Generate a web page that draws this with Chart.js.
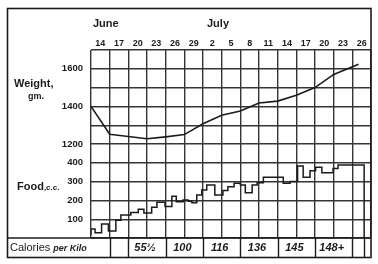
<!DOCTYPE html>
<html><head><meta charset="utf-8">
<script src="https://cdn.jsdelivr.net/npm/chart.js@4/dist/chart.umd.min.js"></script>
<style>html,body{margin:0;padding:0;background:#fff;}canvas{display:block;}</style>
</head><body>
<canvas id="c" width="378" height="264"></canvas>
<script>
// ---- data (x = days after June 14; 3 days per grid column) ----
const dayLabels = ['14','17','20','23','26','29','2','5','8','11','14','17','20','23','26'];
const monthLabels = ['June', 'July'];
const monthStartDays = [0, 18];
const weightTicks = [1200, 1400, 1600];
const foodTicks = [100, 200, 300, 400];

const weightDays = [0, 3, 6, 9, 12, 15, 18, 21, 24, 27, 30, 33, 36, 39, 43];
const weightGm   = [1400, 1252, 1240, 1228, 1238, 1250, 1308, 1353, 1375, 1418, 1428, 1459, 1500, 1570, 1624];

const foodDays = [0, 0.65, 1.7, 2.8, 4.0, 4.8, 6.4, 7.6, 8.5, 9.75, 10.6, 11.9, 13.0, 13.7, 14.8, 15.6, 16.2, 17.0,
                  17.8, 18.6, 19.9, 21.2, 22.0, 23.0, 24.0, 24.8, 25.9, 26.7, 27.7, 30.9, 32.0, 33.2, 34.1, 35.2,
                  36.1, 37.1, 38.9, 39.7, 41.1, 43.9, 43.9];
const foodCc   = [16, 48, 28, 74, 37, 94, 122, 135, 153, 133, 164, 190, 168, 222, 193, 202, 195, 188,
                  229, 255, 282, 229, 252, 273, 291, 282, 241, 282, 294, 323, 291, 300, 383, 323,
                  358, 376, 347, 370, 388, 388, 0];

const calorieLabels = ['55½', '100', '116', '136', '145', '148+'];
const calorieCellDays = [6, 12, 18, 24, 30, 36, 42];
const calorieDividerDays = [3, 6, 12, 18, 24, 30, 36, 42, 43.9];

// ---- scale ranges ----
const WEIGHT_MIN = 700, WEIGHT_MAX = 1700;
const FOOD_MIN = 0, FOOD_MAX = 1000;

// ---- styling ----
const FONT = "'Liberation Sans', Arial, sans-serif";
const INK = '#1b1b1b';
const GRID = '#353535';

const paper = {
  id: 'paper',
  beforeDraw(chart) {
    const c = chart.ctx;
    c.save();
    c.fillStyle = '#ffffff';
    c.fillRect(0, 0, chart.width, chart.height);
    c.restore();
  },
  afterDraw(chart) {
    const c = chart.ctx;
    const xs = chart.scales.x;
    const area = chart.chartArea;
    c.save();
    c.strokeStyle = INK;
    c.fillStyle = INK;
    // outer frame
    c.lineWidth = 1.6;
    c.strokeRect(7.5, 8.5, area.right - 7.5, 249);
    // top of calories row
    c.beginPath();
    c.moveTo(7, area.bottom); c.lineTo(area.right, area.bottom);
    c.stroke();
    // calories row dividers
    c.lineWidth = 1.4;
    calorieDividerDays.forEach(d => {
      const px = Math.round(xs.getPixelForValue(d)) + 0.5;
      c.beginPath(); c.moveTo(px, area.bottom); c.lineTo(px, 257.5); c.stroke();
    });
    // month labels
    c.textBaseline = 'middle';
    c.textAlign = 'left';
    c.font = "bold 11px " + FONT;
    monthLabels.forEach((m, i) => {
      c.fillText(m, xs.getPixelForValue(monthStartDays[i]) + (i === 0 ? 2 : 4), 24);
    });
    // axis titles
    c.font = "bold 11px " + FONT;
    c.fillText('Weight,', 14, 84);
    c.font = "bold 9px " + FONT;
    c.textAlign = 'center';
    c.fillText('gm.', 36, 97);
    c.textAlign = 'left';
    c.font = "bold 11px " + FONT;
    c.fillText('Food', 17, 187);
    const fw = c.measureText('Food').width;
    c.font = "bold 8px " + FONT;
    c.fillText(',c.c.', 17 + fw, 188);
    // calories row
    c.font = "11px " + FONT;
    c.fillText('Calories', 10, 248);
    const cw = c.measureText('Calories').width;
    c.font = "italic bold 9px " + FONT;
    c.fillText('per Kilo', 10 + cw + 3, 249);
    c.font = "italic bold 11px " + FONT;
    c.textAlign = 'center';
    calorieLabels.forEach((t, i) => {
      const mid = (xs.getPixelForValue(calorieCellDays[i]) + xs.getPixelForValue(calorieCellDays[i + 1])) / 2;
      c.fillText(t, mid - 2, 248);
    });
    c.restore();
  }
};

new Chart(document.getElementById('c'), {
  type: 'line',
  data: {
    datasets: [
      { label: 'Weight, gm.', data: weightDays.map((d, i) => ({ x: d, y: weightGm[i] })),
        xAxisID: 'x', yAxisID: 'y', borderColor: INK, borderWidth: 1.6, pointRadius: 0, tension: 0, fill: false },
      { label: 'Food, c.c.', data: foodDays.map((d, i) => ({ x: d, y: foodCc[i] })),
        xAxisID: 'x', yAxisID: 'yFood', borderColor: INK, borderWidth: 1.5, pointRadius: 0, stepped: 'after', fill: false }
    ]
  },
  options: {
    responsive: false, animation: false, devicePixelRatio: 1,
    layout: { padding: { left: 7, right: 7, top: 0, bottom: 26 } },
    plugins: { legend: { display: false }, tooltip: { enabled: false } },
    scales: {
      x: { type: 'linear', position: 'bottom', min: 0, max: 45,
           ticks: { stepSize: 3, display: false },
           grid: { color: GRID, lineWidth: 1.4, drawTicks: false },
           border: { display: false },
           afterFit(s) { s.height = 0; } },
      xTop: { type: 'category', position: 'top', labels: dayLabels, offset: true,
              grid: { display: false, drawTicks: false }, border: { display: false },
              ticks: { color: INK, font: { family: FONT, size: 9, weight: 'bold' }, padding: 1, maxRotation: 0, autoSkip: false },
              afterFit(s) { s.height = 50; } },
      y: { position: 'left', min: WEIGHT_MIN, max: WEIGHT_MAX,
           ticks: { stepSize: 100, color: INK, padding: 8, autoSkip: false,
                    font: { family: FONT, size: 9.5, weight: 'bold' },
                    callback(v) {
                      if (weightTicks.includes(v)) return String(v);
                      // the lower half of the same grid is read on the food scale
                      const f = Math.round((v - WEIGHT_MIN) / (WEIGHT_MAX - WEIGHT_MIN) * (FOOD_MAX - FOOD_MIN) + FOOD_MIN);
                      return foodTicks.includes(f) ? String(f) : '';
                    } },
           grid: { color: GRID, lineWidth: 1.4, drawTicks: false },
           border: { display: false },
           afterFit(s) { s.width = 84; } },
      yFood: { display: false, position: 'left', min: FOOD_MIN, max: FOOD_MAX }
    }
  },
  plugins: [paper]
});
</script>
</body></html>
